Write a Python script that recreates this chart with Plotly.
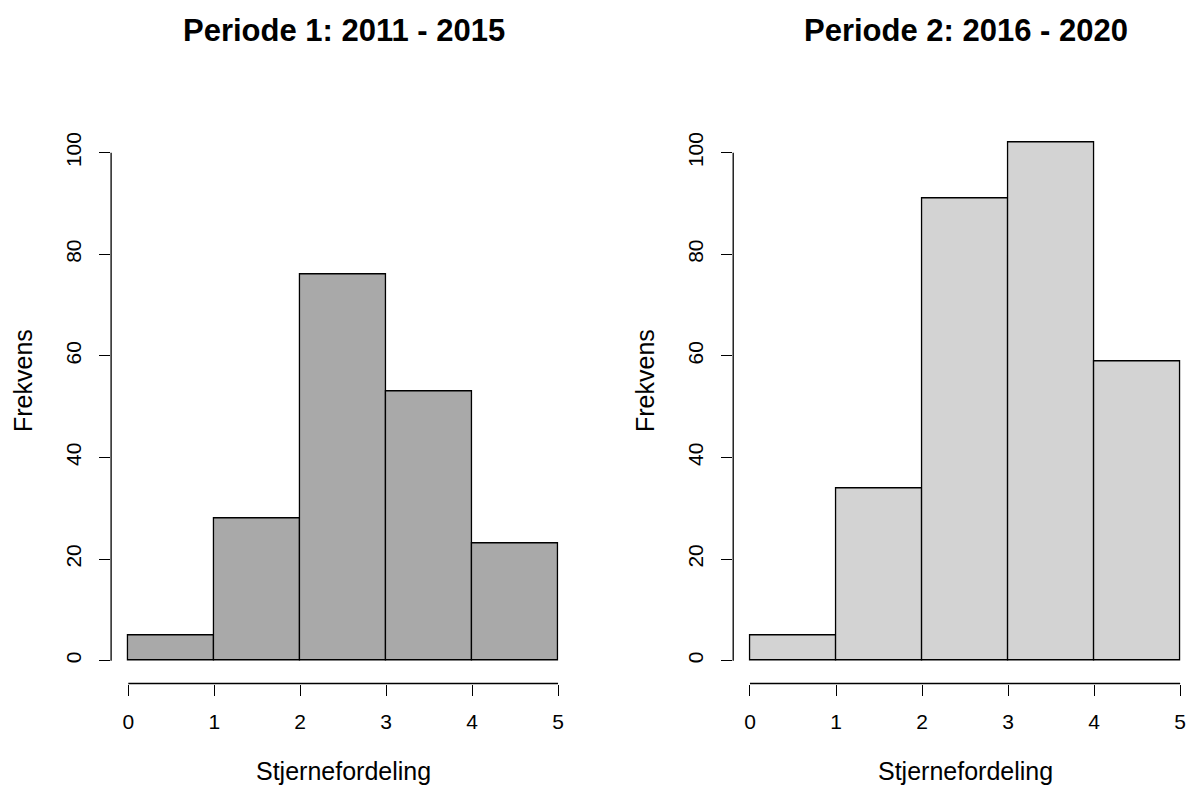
import plotly.graph_objects as go

# ---- data ----
bin_edges = [0, 1, 2, 3, 4, 5]
counts_p1 = [5, 28, 76, 53, 23]
counts_p2 = [5, 34, 91, 102, 59]
titles = ["Periode 1: 2011 - 2015", "Periode 2: 2016 - 2020"]
x_label = "Stjernefordeling"
y_label = "Frekvens"
x_ticks = [0, 1, 2, 3, 4, 5]
y_ticks = [0, 20, 40, 60, 80, 100]

W, H = 1187, 785
mids = [(a + b) / 2 for a, b in zip(bin_edges[:-1], bin_edges[1:])]
widths = [b - a for a, b in zip(bin_edges[:-1], bin_edges[1:])]

FONT = "Liberation Sans, Arial, sans-serif"

fig = go.Figure()
fig.add_trace(go.Bar(x=mids, y=counts_p1, width=widths, marker=dict(color="#A9A9A9", line=dict(color="#000000", width=1.3)),
                     xaxis="x", yaxis="y", showlegend=False))
fig.add_trace(go.Bar(x=mids, y=counts_p2, width=widths, marker=dict(color="#D3D3D3", line=dict(color="#000000", width=1.3)),
                     xaxis="x2", yaxis="y2", showlegend=False))

# pixel geometry
def fx(px):
    return px / W

def fy(py):
    return (H - py) / H

ydom = [fy(683.5), fy(132.4)]
xdom1 = [fx(111.1), fx(575.2)]
xdom2 = [fx(733.2), 1.0]

xcommon = dict(showgrid=False, zeroline=False, showline=False, ticks="outside", ticklen=11, tickwidth=1.3,
               tickcolor="#000", tickvals=x_ticks, tickfont=dict(family=FONT, size=21, color="#000"),
               ticklabelstandoff=8)
ycommon = dict(showgrid=False, zeroline=False, showline=False, ticks="outside", ticklen=11, tickwidth=1.3,
               tickcolor="#000", tickvals=y_ticks, tickangle=-90, range=[-4.5, 104], domain=ydom,
               tickfont=dict(family=FONT, size=21, color="#000"), ticklabelstandoff=10)

fig.update_layout(
    width=W, height=H, margin=dict(l=0, r=0, t=0, b=0),
    paper_bgcolor="white", plot_bgcolor="white", bargap=0,
    xaxis=dict(xcommon, range=[-0.2, 5.2], domain=xdom1, anchor="y"),
    yaxis=dict(ycommon, anchor="x"),
    xaxis2=dict(xcommon, range=[-0.195, 5.08], domain=xdom2, anchor="y2"),
    yaxis2=dict(ycommon, anchor="x2"),
)

# R-style axis lines spanning only the tick range
for xr, yr in [("x", "y"), ("x2", "y2")]:
    fig.add_shape(type="line", xref=xr, yref=yr + " domain", x0=x_ticks[0], x1=x_ticks[-1], y0=0, y1=0,
                  line=dict(color="#000", width=1.3))
    fig.add_shape(type="line", xref=xr + " domain", yref=yr, x0=0, x1=0, y0=y_ticks[0], y1=y_ticks[-1],
                  line=dict(color="#000", width=1.3))

# titles and axis labels
centers = [343.5, 965.5]
for cx, t in zip(centers, titles):
    fig.add_annotation(text="<b>" + t + "</b>", x=fx(cx), y=fy(31), xref="paper", yref="paper",
                       showarrow=False, xanchor="center", yanchor="middle",
                       font=dict(family=FONT, size=31, color="#000"))
    fig.add_annotation(text=x_label, x=fx(cx), y=fy(771), xref="paper", yref="paper",
                       showarrow=False, xanchor="center", yanchor="middle",
                       font=dict(family=FONT, size=25, color="#000"))
for lx in [23, 645]:
    fig.add_annotation(text=y_label, x=fx(lx), y=fy(381), xref="paper", yref="paper", textangle=-90,
                       showarrow=False, xanchor="center", yanchor="middle",
                       font=dict(family=FONT, size=25, color="#000"))

fig.write_html("out.html", config={"displayModeBar": False},
               post_script="document.body.style.margin='0';document.body.style.overflow='hidden';")
